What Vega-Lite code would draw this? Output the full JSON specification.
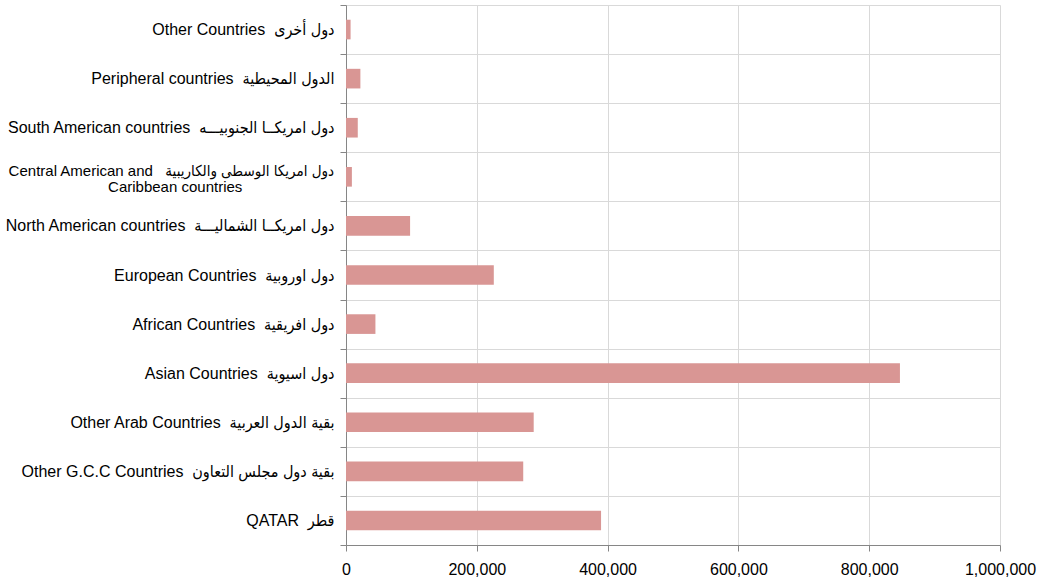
{
  "$schema": "https://vega.github.io/schema/vega-lite/v6.json",
  "autosize": "none",
  "padding": {"left": 346, "top": 5, "right": 40, "bottom": 34},
  "width": 654,
  "height": 540,
  "background": "white",
  "config": {
    "view": {"stroke": null},
    "font": "Liberation Sans"
  },
  "data": {
    "values": [
      {"region": "Other Countries  دول أخرى", "visitors": 7000},
      {"region": "Peripheral countries  الدول المحيطية", "visitors": 22000},
      {"region": "South American countries  دول امريكــا الجنوبيـــه", "visitors": 18000},
      {"region": "Central American and Caribbean countries  دول امريكا الوسطى والكاريبية", "visitors": 9000},
      {"region": "North American countries  دول امريكــا الشماليـــة", "visitors": 98000},
      {"region": "European Countries  دول اوروبية", "visitors": 226000},
      {"region": "African Countries  دول افريقية", "visitors": 45000},
      {"region": "Asian Countries  دول اسيوية", "visitors": 847000},
      {"region": "Other Arab Countries  بقية الدول العربية", "visitors": 287000},
      {"region": "Other G.C.C Countries  بقية دول مجلس التعاون", "visitors": 271000},
      {"region": "QATAR  قطر", "visitors": 390000}
    ]
  },
  "layer": [
    {
      "mark": {"type": "bar", "color": "#d99694", "height": {"band": 0.4}},
      "encoding": {
        "y": {
          "field": "region",
          "type": "nominal",
          "sort": null,
          "scale": {"paddingInner": 0, "paddingOuter": 0},
          "axis": {
            "title": null,
            "tickBand": "extent",
            "grid": true,
            "gridColor": "#d9d9d9",
            "gridWidth": 1,
            "domainColor": "#868686",
            "tickColor": "#868686",
            "tickSize": 6,
            "labelFont": "Liberation Sans, DejaVu Sans Condensed, DejaVu Sans",
            "labelFontSize": 16,
            "labelColor": "#000000",
            "labelLimit": 400,
            "labelPadding": 6,
            "labelExpr": "indexof(datum.label, 'Central') >= 0 ? '' : replace(datum.label, '  ', ' \u00a0')"
          }
        },
        "x": {
          "field": "visitors",
          "type": "quantitative",
          "scale": {"domain": [0, 1000000], "nice": false},
          "axis": {
            "title": null,
            "values": [0, 200000, 400000, 600000, 800000, 1000000],
            "format": ",d",
            "grid": true,
            "gridColor": "#d9d9d9",
            "domainColor": "#868686",
            "tickColor": "#868686",
            "tickSize": 6,
            "labelFont": "Liberation Sans",
            "labelFontSize": 16,
            "labelColor": "#000000",
            "labelPadding": 10,
            "labelFlush": false
          }
        }
      }
    },
    {
      "transform": [{"filter": "indexof(datum.region, 'Central') >= 0"}],
      "mark": {
        "type": "text",
        "align": "right",
        "baseline": "middle",
        "dx": -12,
        "dy": -6,
        "font": "Liberation Sans, DejaVu Sans Condensed, DejaVu Sans",
        "fontSize": 15,
        "lineHeight": 16,
        "color": "#000000",
        "text": ["Central American and \u00a0 دول امريكا الوسطى والكاريبية", "Caribbean countries\u00a0\u00a0\u00a0\u00a0\u00a0\u00a0\u00a0\u00a0\u00a0\u00a0\u00a0\u00a0\u00a0\u00a0\u00a0\u00a0\u00a0\u00a0\u00a0\u00a0\u00a0\u00a0\u2060"]
      },
      "encoding": {
        "y": {"field": "region", "type": "nominal", "sort": null},
        "x": {"datum": 0, "type": "quantitative"}
      }
    }
  ]
}
